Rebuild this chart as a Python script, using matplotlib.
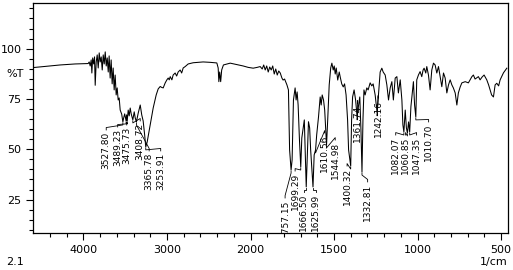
import numpy as np
import matplotlib
matplotlib.use("Agg")
import matplotlib.pyplot as plt

# spectrum (wavenumber 1/cm, %T)
wn = [4601, 4457, 4278, 4098, 3943, 3931, 3919, 3907, 3899, 3889, 3877, 3867, 3859, 3847,
      3835, 3823, 3811, 3799, 3787, 3775, 3763, 3751, 3739, 3727, 3715, 3703, 3692, 3680,
      3668, 3656, 3644, 3632, 3620, 3608, 3596, 3584, 3572, 3560, 3542, 3527.8, 3518, 3506,
      3489.2, 3483, 3475.7, 3464, 3452, 3440, 3428, 3408.7, 3392, 3380, 3365.8, 3344, 3320,
      3302, 3285, 3267, 3253.9, 3237, 3201, 3165, 3129, 3105, 3081, 3061, 3045, 3021, 3001,
      2985, 2973, 2961, 2941, 2926, 2902, 2884, 2866, 2842, 2824, 2806, 2782, 2746, 2686,
      2567, 2483, 2403, 2387, 2379, 2369, 2357, 2345, 2324, 2243, 2163, 2088, 2028,
      1984, 1960, 1942, 1930, 1921, 1912, 1903, 1894, 1885, 1876, 1867, 1858, 1849, 1840,
      1831, 1822, 1812, 1805, 1796, 1782, 1773, 1766, 1757.15, 1751, 1743, 1733, 1727, 1721,
      1715, 1707, 1699.29, 1693, 1685, 1678, 1673, 1666.5, 1661, 1653, 1646, 1640, 1625.99,
      1619, 1610.56, 1604, 1593, 1583, 1577, 1571, 1563, 1556, 1550, 1544.98, 1538, 1529,
      1520, 1513, 1505, 1499, 1493, 1487, 1478, 1469, 1463, 1454, 1445, 1437, 1428, 1419,
      1413, 1400.32, 1395, 1389, 1380, 1371, 1361.74, 1353, 1346, 1339, 1332.81, 1327, 1321,
      1314, 1304, 1296, 1284, 1274, 1266, 1254, 1242.16, 1234, 1224, 1214, 1206, 1194, 1184,
      1174, 1164, 1154, 1145, 1134, 1124, 1115, 1104, 1094, 1088, 1082.07, 1074, 1067,
      1060.85, 1054, 1047.35, 1040, 1034, 1025, 1018, 1010.7, 1005, 995, 985, 975, 967, 961,
      951, 945, 935, 925, 915, 905, 895, 885, 875, 865, 855, 845, 835, 825, 815, 805, 795,
      786, 775, 765, 756, 745, 735, 715, 696, 675, 666, 656, 636, 626, 614, 602, 586, 575,
      566, 557, 546, 536, 526, 515, 506, 486, 466]
tr = [90.6, 91.2, 91.9, 92.4, 92.6, 93.4, 91.4, 94.4, 87.9, 95.4, 92.4, 95.9, 81.8, 93.4,
      96.9, 90.4, 97.9, 93.4, 95.9, 89.4, 96.9, 92.4, 98.4, 91.4, 95.4, 88.4, 96.4, 85.4,
      94.4, 82.5, 90.4, 79.5, 86.9, 77.0, 80.5, 74.5, 75.5, 69.5, 67.5, 63.6, 65.6, 67.6,
      64.1, 67.1, 64.1, 69.5, 66.6, 70.5, 67.6, 64.6, 68.6, 65.6, 63.6, 68.0, 72.0,
      67.1, 64.1, 57.1, 51.2, 53.6, 62.1, 70.5, 77.0, 80.0, 81.2, 80.7, 80.5, 83.0, 84.5,
      85.4, 84.5, 86.1, 84.5, 86.9, 87.9, 86.4, 88.4, 89.4, 87.9, 90.4, 91.1, 92.4, 93.0,
      93.4, 93.2, 92.9, 90.4, 83.6, 88.4, 83.6, 89.4, 91.9, 92.8, 92.1, 91.4, 90.7,
      90.3, 90.7, 91.1, 89.9, 91.9, 89.4, 91.4, 88.4, 90.9, 89.4, 91.4, 87.4, 89.9, 86.9,
      88.9, 87.9, 85.4, 84.4, 84.9, 82.0, 79.5, 49.7, 39.7, 44.7, 74.5, 80.5, 74.5, 78.5,
      72.0, 54.6, 41.2, 55.6, 60.6, 64.6, 49.7, 31.3, 44.7, 63.7, 60.6, 49.7, 31.3,
      47.2, 49.7, 57.1, 66.1, 76.0, 72.0, 77.0, 74.5, 69.5, 59.6, 52.2, 64.6, 82.0,
      90.4, 92.8, 89.4, 91.4, 87.4, 90.4, 84.4, 88.4, 85.9, 82.5, 81.0, 82.5, 77.0, 64.6,
      49.7, 41.7, 64.6, 76.0, 79.5, 74.5, 66.1, 72.0, 76.0, 59.6, 38.7, 64.6, 79.5,
      77.0, 80.5, 79.5, 83.0, 81.5, 82.5, 77.0, 68.1, 77.0, 88.4, 90.3, 88.4, 86.9, 82.0,
      74.5, 80.5, 83.6, 74.5, 85.4, 86.1, 78.0, 84.5, 74.5, 62.1, 58.6, 69.5, 60.6,
      58.1, 63.6, 58.6, 71.2, 76.2, 83.6, 72.0, 66.1, 84.5, 86.9, 88.6, 86.1, 89.4, 90.3,
      87.9, 91.1, 86.9, 79.5, 89.4, 92.8, 91.9, 87.9, 91.1, 86.1, 81.1, 87.9, 85.4, 78.0,
      82.0, 84.5, 82.0, 80.5, 78.0, 72.0, 78.0, 81.0, 83.0, 83.6, 83.0, 86.1, 86.9, 84.9,
      86.1, 84.5, 85.9, 86.9, 84.5, 82.0, 79.5, 77.0, 76.0, 82.0, 82.8, 81.5, 84.5, 88.0, 90.3]

peaks = ["3527.80", "3489.23", "3475.73", "3408.72", "3365.78", "3253.91",
         "1757.15", "1699.29", "1666.50", "1625.99", "1610.56", "1544.98",
         "1400.32", "1361.74", "1332.81", "1242.16", "1082.07", "1060.85",
         "1047.35", "1010.70"]
# where the rotated labels sit (label centre wavenumber, top of label in %T)
lab_x = [3727, 3590, 3482, 3320, 3213, 3075,
         1793, 1733, 1682, 1610, 1556, 1493,
         1422, 1359, 1299, 1236, 1131, 1072, 1006, 934]
lab_top = [59.6, 61.1, 62.1, 64.1, 49.2, 49.2,
           25.8, 39.2, 28.6, 28.6, 58.1, 54.6,
           41.7, 73.0, 33.8, 75.5, 57.1, 57.1, 57.1, 63.6]

xmajor = [4000, 3000, 2000, 1500, 1000, 500]
xminor = [4400, 4200, 3800, 3600, 3400, 3200, 2800, 2600, 2400, 2200,
          1900, 1800, 1700, 1600, 1400, 1300, 1200, 1100, 900, 800, 700, 600]
ymajor = [25, 50, 75, 100]


# above 2000 1/cm the axis is compressed by half
def fwd(v):
    v = np.asarray(v, dtype=float)
    return np.where(v > 2000, 2000 + (v - 2000) / 2, v)


def inv(u):
    u = np.asarray(u, dtype=float)
    return np.where(u > 2000, 2000 + 2 * (u - 2000), u)


fig = plt.figure(figsize=(5.13, 2.70), dpi=100)
ax = fig.add_axes([0.0649, 0.137, 0.925, 0.852])
ax.set_xscale("function", functions=(fwd, inv))
ax.plot(wn, tr, color="black", lw=0.75)
ax.set_xlim(4600, 460)
ax.set_ylim(8.4, 122.7)

for s, lx, lt in zip(peaks, lab_x, lab_top):
    p = float(s)
    pt = np.interp(p, wn[::-1], tr[::-1])
    ax.plot([p, p, lx, lx], [pt - 0.5, pt - 1.5, lt + 1.2, lt], color="black", lw=0.6)
    ax.text(lx, lt - 0.8, s, rotation=90, ha="center", va="top", fontsize=6.5,
            clip_on=True)

ax.set_xticks(xmajor)
ax.set_xticklabels([str(v) for v in xmajor])
ax.set_xticks(xminor, minor=True)
ax.set_yticks(ymajor)
ax.set_yticks(np.arange(10, 125, 5), minor=True)
ax.tick_params(which="major", length=5, width=0.8, labelsize=8, direction="out")
ax.tick_params(which="minor", length=3, width=0.8, direction="out")
for sp in ax.spines.values():
    sp.set_linewidth(0.9)

fig.text(0.012, 0.726, "%T", fontsize=8, va="center")
fig.text(0.012, 0.03, "2.1", fontsize=8, va="center")
fig.text(0.99, 0.03, "1/cm", fontsize=8, va="center", ha="right")

fig.savefig("out.png", dpi=100)
